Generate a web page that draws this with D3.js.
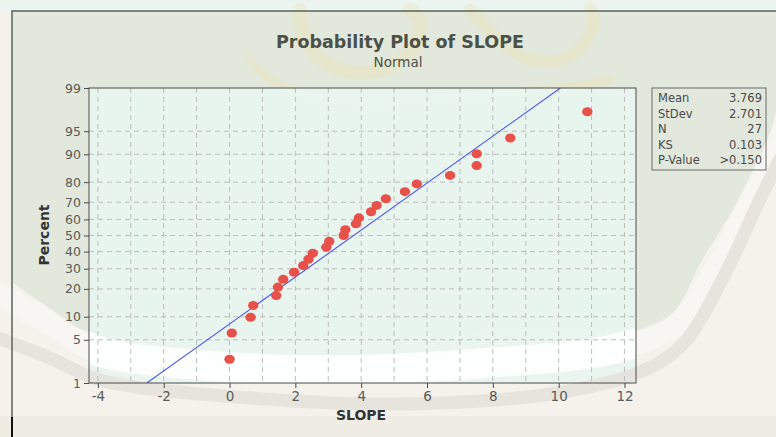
<!DOCTYPE html>
<html>
<head>
<meta charset="utf-8">
<script src="https://cdn.jsdelivr.net/npm/d3@7"></script>
<style>
  html, body { margin: 0; padding: 0; background: #f4f2eb; }
  svg { display: block; }
</style>
</head>
<body>
<svg id="chart" width="776" height="437"></svg>
<script>
// ---------------- data ----------------
const slopeValues = [0.00, 0.07, 0.64, 0.72, 1.42, 1.47, 1.63, 1.96, 2.24, 2.40, 2.53, 2.94, 3.03, 3.47, 3.52,
                     3.84, 3.93, 4.30, 4.47, 4.75, 5.33, 5.69, 6.70, 7.51, 7.51, 8.53, 10.87];
const percentValues = [2.55, 6.20, 9.85, 13.50, 17.15, 20.80, 24.45, 28.10, 31.75, 35.40, 39.05, 42.70, 46.35,
                       50.00, 53.65, 57.30, 60.95, 64.60, 68.25, 71.90, 75.55, 79.20, 82.85, 86.50, 90.15, 93.80, 97.45];
const xTickValues = [-4, -2, 0, 2, 4, 6, 8, 10, 12];
const xGridValues = [-4, -3, -2, -1, 0, 1, 2, 3, 4, 5, 6, 7, 8, 9, 10, 11, 12];
const yTickValues = [1, 5, 10, 20, 30, 40, 50, 60, 70, 80, 90, 95, 99];
const statLabels = ["Mean", "StDev", "N", "KS", "P-Value"];
const statValues = ["3.769", "2.701", "27", "0.103", ">0.150"];
const fitMean = 3.769;
const fitStDev = 2.701;

// inverse standard normal CDF (Acklam)
function probit(p) {
  const a = [-3.969683028665376e+01, 2.209460984245205e+02, -2.759285104469687e+02, 1.383577518672690e+02, -3.066479806614716e+01, 2.506628277459239e+00];
  const b = [-5.447609879822406e+01, 1.615858368580409e+02, -1.556989798598866e+02, 6.680131188771972e+01, -1.328068155288572e+01];
  const c = [-7.784894002430293e-03, -3.223964580411365e-01, -2.400758277161838e+00, -2.549732539343734e+00, 4.374664141464968e+00, 2.938163982698783e+00];
  const d = [7.784695709041462e-03, 3.224671290700398e-01, 2.445134137142996e+00, 3.754408661907416e+00];
  const pl = 0.02425, ph = 1 - pl;
  let q, r;
  if (p < pl) {
    q = Math.sqrt(-2 * Math.log(p));
    return (((((c[0]*q+c[1])*q+c[2])*q+c[3])*q+c[4])*q+c[5]) / ((((d[0]*q+d[1])*q+d[2])*q+d[3])*q+1);
  } else if (p <= ph) {
    q = p - 0.5; r = q * q;
    return (((((a[0]*r+a[1])*r+a[2])*r+a[3])*r+a[4])*r+a[5])*q / (((((b[0]*r+b[1])*r+b[2])*r+b[3])*r+b[4])*r+1);
  } else {
    q = Math.sqrt(-2 * Math.log(1 - p));
    return -(((((c[0]*q+c[1])*q+c[2])*q+c[3])*q+c[4])*q+c[5]) / ((((d[0]*q+d[1])*q+d[2])*q+d[3])*q+1);
  }
}

// ---------------- layout ----------------
const W = 776, H = 437;
const plot = { left: 89, right: 636, top: 88, bottom: 383 };
const svg = d3.select("#chart");
const FONT = "'DejaVu Sans', Verdana, sans-serif";
const defs = svg.append("defs");
defs.append("clipPath").attr("id", "plotClip").append("rect")
  .attr("x", plot.left).attr("y", plot.top).attr("width", plot.right - plot.left).attr("height", plot.bottom - plot.top);

// background / watermark approximation
svg.append("rect").attr("x", 0).attr("y", 0).attr("width", W).attr("height", H).attr("fill", "#f4f2eb");
svg.append("rect").attr("x", 0).attr("y", 416).attr("width", W).attr("height", H - 416).attr("fill", "#efece3");
const line = d3.line().curve(d3.curveCatmullRom.alpha(0.5));
svg.append("path")
  .attr("d", line([[12, 11], [776, 11], [776, 110], [750, 178], [705, 255], [662, 322], [560, 332], [300, 336], [89, 332], [45, 305], [12, 282]]) + "Z")
  .attr("fill", "#e2e8dc");
svg.append("rect").attr("x", 0).attr("y", 0).attr("width", W).attr("height", 11).attr("fill", "#ebf4ef");

// faint yellow calligraphy hint at top
const yel = svg.append("g").attr("fill", "none").attr("stroke", "#efe4b4").attr("stroke-linecap", "round").attr("opacity", 0.35);
yel.append("path").attr("d", "M300,10 C300,60 340,80 380,70 C420,60 430,20 410,10").attr("stroke-width", 14);
yel.append("path").attr("d", "M470,10 C500,40 520,70 560,60 C590,50 600,20 590,8").attr("stroke-width", 12);
yel.append("path").attr("d", "M250,60 C270,90 330,110 420,100 C500,92 560,90 610,80").attr("stroke-width", 8);

// faint watermark text along an arc
defs.append("path").attr("id", "wmArc")
  .attr("d", "M 95 120 A 300 230 0 0 0 690 120");
svg.append("text")
  .attr("font-family", FONT).attr("font-size", 66).attr("font-weight", "bold")
  .attr("fill", "none").attr("stroke", "#cdb9b9").attr("stroke-width", 1.2).attr("opacity", 0.5)
  .append("textPath").attr("href", "#wmArc").attr("startOffset", "50%").attr("text-anchor", "middle")
  .attr("letter-spacing", 6)
  .text("PERPUSTAKA");

// plot background
svg.append("rect")
  .attr("x", plot.left).attr("y", plot.top)
  .attr("width", plot.right - plot.left).attr("height", plot.bottom - plot.top)
  .attr("fill", "#e8f5ef").attr("opacity", 0.93);

// watermark bands (white inner ring, grey outer ring)
const whitePts = [[-10, 290], [45, 320], [95, 350], [200, 365], [350, 370], [500, 362], [600, 352], [650, 338], [685, 318], [720, 262], [765, 172], [790, 120]];
svg.append("path").attr("d", line(whitePts))
  .attr("fill", "none").attr("stroke", "#ffffff").attr("stroke-width", 24).attr("opacity", 0.35);
svg.append("path").attr("d", line(whitePts)).attr("clip-path", "url(#plotClip)")
  .attr("fill", "none").attr("stroke", "#ffffff").attr("stroke-width", 30).attr("opacity", 0.85);
svg.append("path")
  .attr("d", line([[-10, 335], [50, 358], [100, 380], [250, 398], [400, 404], [550, 394], [640, 372], [682, 345], [722, 280], [762, 195], [790, 140]]))
  .attr("fill", "none").attr("stroke", "#e4e2dc").attr("stroke-width", 13).attr("opacity", 0.9);

// ---------------- scales ----------------
const x = d3.scaleLinear().domain([-4.27, 12.35]).range([plot.left, plot.right]);
const yz = d3.scaleLinear().domain([probit(0.01), probit(0.99)]).range([plot.bottom, plot.top]);
const y = p => yz(probit(p / 100));

// grid
const grid = svg.append("g").attr("stroke", "#bdbdbd").attr("stroke-width", 1).attr("stroke-dasharray", "5,4");
grid.selectAll("line.v").data(xGridValues).join("line").attr("class", "v")
  .attr("x1", d => x(d)).attr("x2", d => x(d)).attr("y1", plot.top).attr("y2", plot.bottom);
grid.selectAll("line.h").data(yTickValues.filter(d => d > 1 && d < 99)).join("line").attr("class", "h")
  .attr("x1", plot.left).attr("x2", plot.right).attr("y1", d => y(d)).attr("y2", d => y(d));

// fitted line
const zLo = probit(0.01), zHi = probit(0.99);
svg.append("line").attr("clip-path", "url(#plotClip)")
  .attr("x1", x(fitMean + fitStDev * zLo)).attr("y1", yz(zLo))
  .attr("x2", x(fitMean + fitStDev * zHi)).attr("y2", yz(zHi))
  .attr("stroke", "#4a56f0").attr("stroke-width", 1.1);

// points
svg.append("g").selectAll("ellipse").data(slopeValues).join("ellipse")
  .attr("cx", d => x(d)).attr("cy", (d, i) => y(percentValues[i]))
  .attr("rx", 5.2).attr("ry", 4.5).attr("fill", "#e8504a");

// border
svg.append("rect")
  .attr("x", plot.left).attr("y", plot.top)
  .attr("width", plot.right - plot.left).attr("height", plot.bottom - plot.top)
  .attr("fill", "none").attr("stroke", "#4a4a4a").attr("stroke-width", 1);

// axes
const xAxis = svg.append("g").attr("transform", `translate(0,${plot.bottom})`)
  .call(d3.axisBottom(x).tickValues(xTickValues).tickSize(5).tickPadding(3).tickFormat(d3.format("d")));
const yAxis = svg.append("g").attr("transform", `translate(${plot.left},0)`)
  .call(d3.axisLeft(yz).tickValues(yTickValues.map(p => probit(p / 100))).tickSize(5).tickPadding(3)
    .tickFormat((d, i) => String(yTickValues[i])));
[xAxis, yAxis].forEach(g => {
  g.select(".domain").remove();
  g.selectAll(".tick line").attr("stroke", "#4a4a4a");
  g.selectAll(".tick text").attr("fill", "#5a5a5a").attr("font-family", FONT);
});
xAxis.selectAll(".tick text").attr("font-size", 13.5);
yAxis.selectAll(".tick text").attr("font-size", 12.5);
xAxis.selectAll(".tick text").text(d => d < 0 ? "-" + Math.abs(d) : String(d));

// titles
svg.append("text").attr("x", 400).attr("y", 48).attr("text-anchor", "middle")
  .attr("font-family", FONT).attr("font-weight", "bold").attr("font-size", 17.5).attr("fill", "#4b5148")
  .text("Probability Plot of SLOPE");
svg.append("text").attr("x", 398).attr("y", 67).attr("text-anchor", "middle")
  .attr("font-family", FONT).attr("font-size", 13.5).attr("fill", "#4b5148")
  .text("Normal");
svg.append("text").attr("x", 361).attr("y", 420).attr("text-anchor", "middle")
  .attr("font-family", FONT).attr("font-weight", "bold").attr("font-size", 14).attr("fill", "#333")
  .text("SLOPE");
svg.append("text").attr("transform", `translate(49,235) rotate(-90)`).attr("text-anchor", "middle")
  .attr("font-family", FONT).attr("font-weight", "bold").attr("font-size", 14).attr("fill", "#333")
  .text("Percent");

// legend box
const lg = svg.append("g");
lg.append("rect").attr("x", 652).attr("y", 88).attr("width", 114).attr("height", 82)
  .attr("fill", "none").attr("stroke", "#6a6a6a").attr("stroke-width", 1);
statLabels.forEach((lab, i) => {
  const yy = 102 + i * 15.5;
  lg.append("text").attr("x", 658).attr("y", yy).attr("font-family", FONT).attr("font-size", 11.5)
    .attr("fill", "#4a4a4a").text(lab);
  lg.append("text").attr("x", 762).attr("y", yy).attr("text-anchor", "end").attr("font-family", FONT)
    .attr("font-size", 11.5).attr("fill", "#4a4a4a").text(statValues[i]);
});

// frame lines
svg.append("path").attr("d", "M12,437 L12,11 L776,11").attr("fill", "none")
  .attr("stroke", "#55645a").attr("stroke-width", 1.5);
svg.append("line").attr("x1", 12).attr("x2", 12).attr("y1", 417).attr("y2", 437)
  .attr("stroke", "#111").attr("stroke-width", 2);
</script>
</body>
</html>
